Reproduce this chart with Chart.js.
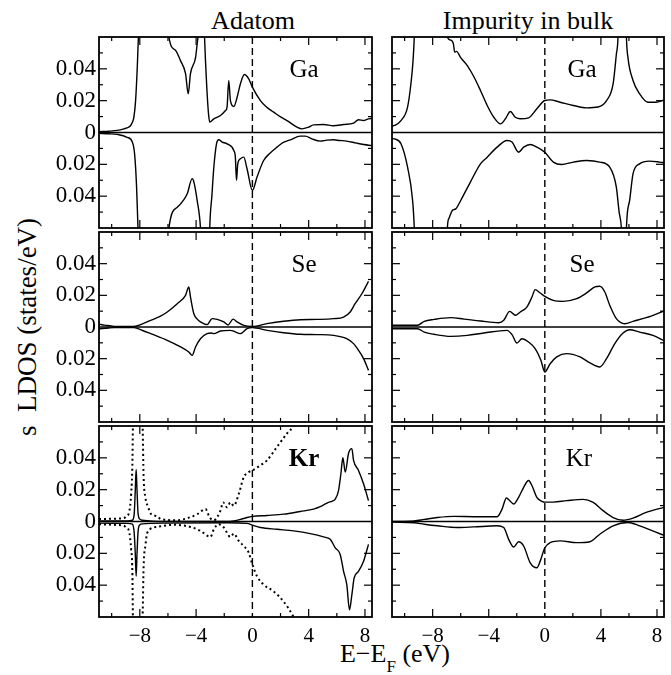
<!DOCTYPE html>
<html>
<head>
<meta charset="utf-8">
<script src="https://cdn.jsdelivr.net/npm/chart.js@4.4.1/dist/chart.umd.min.js"></script>
<style>
  body { margin: 0; background: #fff; width: 671px; height: 675px; position: relative; overflow: hidden;
         font-family: "Liberation Serif", "Times New Roman", serif; color: #000; }
  canvas { position: absolute; }
  .t { position: absolute; white-space: nowrap; line-height: 1; }
</style>
</head>
<body>
<div class="t" style="font-size:26px;left:253px;top:8px;transform:translateX(-50%)">Adatom</div>
<div class="t" style="font-size:26px;left:528px;top:8px;transform:translateX(-50%)">Impurity in bulk</div>
<div class="t" style="font-size:27px;left:27px;top:327px;transform:translate(-50%,-50%) rotate(-90deg)">s&nbsp;&nbsp;LDOS (states/eV)</div>
<div class="t" style="font-size:26px;left:395px;top:641px;transform:translateX(-50%)">E&#8722;E<span style="font-size:17px;position:relative;top:10px">F</span> (eV)</div>

<canvas id="gaAd"></canvas>
<canvas id="gaBk"></canvas>
<canvas id="seAd"></canvas>
<canvas id="seBk"></canvas>
<canvas id="krAd"></canvas>
<canvas id="krBk"></canvas>

<script>
// axis ranges and ticks
const xMin = -10.9, xMax = 8.5;
const yMin = -0.06, yMax = 0.06;
const xLabelValues = [-8, -4, 0, 4, 8];
const yLabelValues = [-0.04, -0.02, 0, 0.02, 0.04];
const xTickMarks = [-10, -8, -6, -4, -2, 2, 4, 6, 8];
const yTickMarks = [-0.05, -0.04, -0.03, -0.02, -0.01, 0.01, 0.02, 0.03, 0.04, 0.05];

// Ga adatom
const gaAdUpE = [-10.9, -10.2, -9.6, -9.13, -8.8, -8.65, -8.5, -8.42, -8.3, -8.18, -8.1, -8.0, -6.05, -5.93, -5.5, -5.1, -4.75, -4.56, -4.4, -4.04, -3.92, -3.8, -3.6, -3.5, -3.4, -3.25, -3.12, -3.03, -2.74, -2.27, -1.91, -1.8, -1.68, -1.56, -1.32, -1.09, -0.85, -0.57, -0.26, 0, 0.57, 1.0, 1.51, 2.0, 2.46, 3.17, 3.52, 4.0, 4.35, 5.06, 5.77, 6.48, 7.19, 7.54, 7.9, 8.25, 8.5];
const gaAdUp  = [0.0005, 0.0008, 0.0013, 0.0023, 0.0033, 0.0044, 0.007, 0.0096, 0.020, 0.041, 0.06, 0.09, 0.09, 0.06, 0.052, 0.045, 0.037, 0.0243, 0.037, 0.047, 0.056, 0.065, 0.09, 0.09, 0.06, 0.03, 0.012, 0.0065, 0.0086, 0.0107, 0.0138, 0.016, 0.0327, 0.020, 0.0163, 0.022, 0.0306, 0.0364, 0.0337, 0.0285, 0.020, 0.016, 0.0128, 0.0098, 0.0075, 0.0034, 0.0023, 0.0034, 0.0048, 0.005, 0.0042, 0.005, 0.0059, 0.008, 0.0075, 0.0086, 0.0088];
const gaAdDnE = [-10.9, -10.2, -9.6, -8.9, -8.53, -8.37, -8.23, -8.13, -8.0, -6.05, -5.93, -5.34, -4.63, -4.28, -4.16, -3.92, -3.69, -3.55, -3.1, -3.03, -2.88, -2.74, -2.55, -2.39, -2.15, -1.8, -1.32, -1.21, -1.13, -1.04, -0.85, -0.61, -0.38, 0, 0.33, 0.8, 1.25, 1.75, 2.2, 2.7, 3.4, 3.76, 4.23, 4.82, 5.3, 5.77, 6.2, 6.7, 7.4, 8.25, 8.5];
const gaAdDn  = [-0.0005, -0.0008, -0.0012, -0.003, -0.006, -0.0134, -0.034, -0.06, -0.09, -0.09, -0.06, -0.047, -0.0385, -0.029, -0.031, -0.043, -0.06, -0.09, -0.09, -0.06, -0.04, -0.0218, -0.0071, -0.0046, -0.006, -0.0071, -0.0113, -0.0155, -0.030, -0.0197, -0.0165, -0.0155, -0.0228, -0.0364, -0.028, -0.0176, -0.013, -0.0092, -0.0062, -0.0046, -0.0023, -0.0023, -0.004, -0.0054, -0.0048, -0.0046, -0.005, -0.0054, -0.0067, -0.008, -0.0082];

// Ga impurity in bulk
const gaBkUpE = [-10.9, -10.73, -10.26, -9.79, -9.55, -9.4, -9.31, -9.2, -7.0, -6.95, -6.7, -6.52, -6.43, -6.3, -6.0, -5.53, -5.06, -4.59, -4.11, -3.64, -3.17, -2.81, -2.46, -2.1, -1.75, -1.16, -0.57, 0, 0.38, 1.09, 2.03, 2.98, 3.8, 4.4, 4.87, 5.1, 5.22, 5.3, 5.75, 5.82, 5.93, 6.29, 6.76, 7.35, 7.94, 8.5];
const gaBkUp  = [0.0040, 0.0044, 0.0075, 0.016, 0.0306, 0.045, 0.06, 0.09, 0.09, 0.06, 0.058, 0.0557, 0.0505, 0.051, 0.047, 0.042, 0.035, 0.0264, 0.017, 0.0096, 0.0054, 0.0086, 0.0132, 0.0096, 0.0086, 0.0092, 0.0149, 0.0201, 0.0205, 0.019, 0.017, 0.0155, 0.016, 0.020, 0.0306, 0.049, 0.06, 0.09, 0.09, 0.06, 0.047, 0.0327, 0.0243, 0.019, 0.019, 0.0205];
const gaBkDnE = [-10.9, -10.73, -10.26, -9.79, -9.43, -9.31, -9.2, -7.0, -6.95, -6.84, -6.6, -6.35, -6.0, -5.3, -4.59, -4.11, -3.4, -2.7, -2.34, -1.87, -1.51, -1.04, -0.57, 0, 0.61, 1.2, 2.03, 2.98, 3.92, 4.63, 5.1, 5.3, 5.46, 5.6, 5.75, 5.82, 6.05, 6.29, 6.76, 7.47, 8.18, 8.5];
const gaBkDn  = [-0.0038, -0.004, -0.0071, -0.0218, -0.0427, -0.06, -0.09, -0.09, -0.06, -0.054, -0.049, -0.048, -0.0427, -0.031, -0.0197, -0.0155, -0.0092, -0.005, -0.006, -0.0124, -0.0092, -0.0075, -0.0092, -0.0124, -0.0186, -0.0201, -0.0186, -0.0176, -0.0186, -0.0218, -0.0343, -0.05, -0.06, -0.09, -0.09, -0.06, -0.0427, -0.026, -0.0197, -0.018, -0.0186, -0.019];

// Se adatom
const seAdUpE = [-10.9, -10.5, -9.83, -8.42, -7.8, -7.23, -6.6, -6.05, -5.34, -4.75, -4.52, -4.4, -4.16, -3.9, -3.69, -3.22, -2.86, -2.5, -2.03, -1.73, -1.37, -1.09, -0.61, 0, 1.04, 2.22, 3.4, 4.59, 5.77, 6.48, 6.95, 7.3, 7.78, 8.25];
const seAdUp  = [0.0018, 0.0012, 0.0004, 0.0004, 0.002, 0.0042, 0.0065, 0.0095, 0.0147, 0.02, 0.0253, 0.019, 0.0084, 0.0048, 0.0032, 0.0015, 0.0053, 0.0048, 0.0032, 0.0013, 0.005, 0.0032, 0.001, 0.0004, 0.0021, 0.0036, 0.0046, 0.0048, 0.0053, 0.0063, 0.0095, 0.0147, 0.021, 0.0288];
const seAdDnE = [-10.9, -10.2, -9.83, -8.42, -7.8, -7.23, -6.05, -5.1, -4.52, -4.28, -4.04, -3.69, -3.22, -2.9, -2.74, -2.27, -1.56, -1.32, -0.85, -0.38, 0, 1.04, 2.22, 3.4, 4.59, 5.77, 6.7, 7.19, 7.54, 7.9, 8.25];
const seAdDn  = [-0.0012, -0.0006, -0.0004, -0.0004, -0.0022, -0.0042, -0.0084, -0.0126, -0.0158, -0.0179, -0.0126, -0.0074, -0.0042, -0.0038, -0.0042, -0.0025, -0.0021, -0.0027, -0.0042, -0.0011, -0.0004, -0.0021, -0.0036, -0.0046, -0.0048, -0.0053, -0.0074, -0.0105, -0.0147, -0.02, -0.0274];

// Se impurity in bulk
const seBkUpE = [-10.9, -9.08, -8.6, -7.9, -6.71, -5.77, -4.59, -3.29, -2.93, -2.51, -2.1, -1.75, -1.28, -0.92, -0.69, -0.33, 0, 0.61, 1.32, 2.27, 2.98, 3.57, 3.92, 4.28, 4.63, 5.1, 5.7, 6.29, 7.23, 8.5];
const seBkUp  = [0.0011, 0.0011, 0.0036, 0.0048, 0.0059, 0.005, 0.0038, 0.0027, 0.0042, 0.0099, 0.0074, 0.0095, 0.0126, 0.0189, 0.0236, 0.0215, 0.0194, 0.0168, 0.0162, 0.0179, 0.0215, 0.0253, 0.0257, 0.0221, 0.0137, 0.0053, 0.0021, 0.0036, 0.0059, 0.0101];
const seBkDnE = [-10.9, -9.08, -8.6, -7.9, -6.71, -5.53, -4.35, -2.7, -2.34, -1.99, -1.63, -1.16, -0.69, -0.28, 0, 0.38, 0.85, 1.56, 2.51, 3.22, 3.92, 4.4, 4.99, 5.58, 6.05, 6.76, 7.71, 8.5];
const seBkDn  = [-0.0011, -0.0011, -0.0032, -0.0046, -0.0059, -0.0053, -0.0038, -0.0021, -0.0048, -0.0101, -0.0074, -0.0095, -0.0137, -0.021, -0.0284, -0.0232, -0.0189, -0.0168, -0.0189, -0.0227, -0.0253, -0.02, -0.0105, -0.0038, -0.0017, -0.0032, -0.0053, -0.0086];

// Kr adatom (solid and dotted)
const krAdUpE = [-10.9, -8.89, -8.53, -8.4, -8.32, -8.26, -8.2, -8.12, -8.0, -7.82, -6.05, -1.8, -1.32, -0.85, -0.38, 0, 1.04, 2.22, 3.4, 4.35, 4.82, 5.18, 5.41, 5.65, 5.89, 6.12, 6.29, 6.43, 6.6, 6.83, 7.07, 7.19, 7.54, 7.9, 8.25];
const krAdUp  = [0.0004, 0.0004, 0.0008, 0.0046, 0.020, 0.0327, 0.020, 0.0046, 0.0015, 0.0008, 0, 0, 0.0004, 0.0013, 0.0025, 0.0032, 0.0038, 0.0046, 0.0063, 0.0078, 0.0093, 0.011, 0.012, 0.0127, 0.0141, 0.0194, 0.030, 0.0401, 0.031, 0.0427, 0.0458, 0.0384, 0.0321, 0.0237, 0.0131];
const krAdDnE = [-10.9, -8.89, -8.53, -8.4, -8.32, -8.26, -8.2, -8.12, -8.0, -7.82, -6.05, -1.8, -0.38, 0, 0.57, 1.75, 2.93, 4.11, 5.06, 5.53, 5.89, 6.24, 6.48, 6.71, 6.9, 7.07, 7.23, 7.54, 7.9, 8.25];
const krAdDn  = [-0.001, -0.0012, -0.0017, -0.007, -0.0207, -0.0344, -0.0207, -0.0059, -0.0021, -0.0015, -0.001, -0.0008, -0.0012, -0.0023, -0.0038, -0.0049, -0.0059, -0.0076, -0.0097, -0.0112, -0.0165, -0.0207, -0.0313, -0.0397, -0.0555, -0.046, -0.0355, -0.0313, -0.0249, -0.0144];
const krAdUpDotE = [-10.9, -9.6, -9.13, -8.96, -8.77, -8.61, -8.53, -8.49, -8.4, -7.9, -7.8, -7.73, -7.6, -7.42, -7.23, -6.74, -6.52, -5.34, -4.63, -3.92, -3.33, -3.03, -2.74, -2.27, -2.08, -1.8, -1.56, -1.32, -0.97, -0.61, -0.26, 0, 0.57, 1.04, 1.75, 2.46, 2.93, 3.2];
const krAdUpDot  = [0.0015, 0.0018, 0.0021, 0.0032, 0.0055, 0.018, 0.035, 0.06, 0.09, 0.09, 0.06, 0.0285, 0.015, 0.0095, 0.005, 0.0032, 0.0015, 0.0008, 0.0021, 0.0046, 0.0078, 0.0025, 0.0008, 0.0068, 0.012, 0.0089, 0.012, 0.0099, 0.0173, 0.0279, 0.031, 0.0321, 0.0353, 0.0384, 0.0469, 0.0553, 0.06, 0.065];
const krAdDnDotE = [-10.9, -9.6, -9.13, -8.96, -8.77, -8.61, -8.53, -8.49, -8.4, -7.9, -7.8, -7.73, -7.6, -7.47, -6.76, -5.58, -4.4, -3.69, -2.98, -2.74, -2.39, -2.03, -1.56, -1.32, -0.97, -0.61, -0.26, 0, 0.33, 0.8, 1.51, 2.22, 2.93, 3.2];
const krAdDnDot  = [-0.0017, -0.0022, -0.0027, -0.0038, -0.0059, -0.018, -0.0313, -0.06, -0.09, -0.09, -0.06, -0.0285, -0.015, -0.007, -0.0034, -0.0021, -0.0034, -0.0059, -0.0097, -0.0049, -0.0017, -0.0038, -0.0097, -0.0076, -0.0122, -0.0154, -0.0196, -0.027, -0.0344, -0.0397, -0.0439, -0.0503, -0.06, -0.065];

// Kr impurity in bulk
const krBkUpE = [-10.9, -9.31, -8.6, -7.66, -6.48, -5.06, -3.4, -3.05, -2.74, -2.46, -2.22, -1.87, -1.51, -1.16, -0.92, -0.57, -0.21, 0, 0.61, 1.56, 2.74, 3.45, 4.16, 4.87, 5.58, 6.29, 7.23, 8.5];
const krBkUp  = [0, 0.0004, 0.0013, 0.0025, 0.0032, 0.003, 0.003, 0.0078, 0.0148, 0.0127, 0.011, 0.0152, 0.0215, 0.0258, 0.0226, 0.0152, 0.0127, 0.0122, 0.0122, 0.0131, 0.0139, 0.012, 0.0068, 0.0025, 0.0008, 0.0021, 0.0057, 0.0089];
const krBkDnE = [-10.9, -9.31, -8.6, -7.66, -6.24, -5.06, -3.4, -2.93, -2.58, -2.22, -1.87, -1.51, -1.04, -0.57, -0.33, 0, 0.38, 1.09, 2.27, 3.22, 3.92, 4.87, 5.93, 6.76, 8.5];
const krBkDn  = [-0.0004, -0.0008, -0.0017, -0.0027, -0.0038, -0.0034, -0.0027, -0.0038, -0.0112, -0.016, -0.0127, -0.0154, -0.026, -0.0291, -0.0249, -0.0165, -0.0133, -0.0122, -0.0133, -0.0127, -0.008, -0.0027, -0.0006, -0.0027, -0.0087];

const serif = '"Liberation Serif", "Times New Roman", serif';

// frame, inner tick marks, zero line, E_F line and panel label
const framePlugin = {
  id: 'frame',
  afterDatasetsDraw(chart, args, opts) {
    const { ctx, chartArea: a, scales: { x, y } } = chart;
    const line = (x1, y1, x2, y2) => { ctx.beginPath(); ctx.moveTo(x1, y1); ctx.lineTo(x2, y2); ctx.stroke(); };
    ctx.save();
    ctx.strokeStyle = '#000';
    ctx.fillStyle = '#000';
    ctx.lineWidth = 1.4;
    const y0 = y.getPixelForValue(0);
    line(a.left, y0, a.right, y0);
    const x0 = x.getPixelForValue(0);
    ctx.setLineDash([7, 4]);
    line(x0, a.top, x0, a.bottom);
    ctx.setLineDash([]);
    ctx.lineWidth = 1.2;
    xTickMarks.forEach(v => {
      const px = x.getPixelForValue(v);
      const len = v % 4 === 0 ? 8 : 4;
      line(px, a.bottom, px, a.bottom - len);
      line(px, a.top, px, a.top + len);
    });
    yTickMarks.forEach(v => {
      const py = y.getPixelForValue(v);
      const len = Math.round(Math.abs(v) * 100) % 2 === 0 ? 8 : 4;
      line(a.left, py, a.left + len, py);
      line(a.right, py, a.right - len, py);
    });
    ctx.lineWidth = 1.8;
    ctx.strokeRect(a.left, a.top, a.width, a.height);
    ctx.font = (opts.bold ? 'bold ' : '') + '25px ' + serif;
    ctx.textAlign = 'center';
    ctx.textBaseline = 'alphabetic';
    ctx.fillText(opts.label, a.left + opts.dx, a.top + 40);
    ctx.restore();
  }
};

function curve(e, v, dotted) {
  return {
    data: e.map((x, i) => ({ x, y: v[i] })),
    borderColor: '#000',
    borderWidth: dotted ? 2 : 1.4,
    borderDash: dotted ? [2, 3] : [],
    pointRadius: 0,
    cubicInterpolationMode: 'monotone',
    fill: false,
    clip: 0
  };
}

// plot rectangles in page pixels
const colLeft = [99, 392], colRight = [372, 664];
const rowTop = [37, 232, 426], rowBottom = [228, 422, 617];

function makePanel(id, col, row, datasets, label, dx, bold) {
  const cv = document.getElementById(id);
  const showY = col === 0, showX = row === 2;
  const left = showY ? 0 : colLeft[col] - 4;
  const top = rowTop[row] - 4;
  const w = colRight[col] + 4 - left;
  const h = (showX ? rowBottom[row] + 30 : rowBottom[row] + 4) - top;
  cv.width = w; cv.height = h;
  cv.style.left = left + 'px'; cv.style.top = top + 'px';
  cv.style.width = w + 'px'; cv.style.height = h + 'px';

  new Chart(cv.getContext('2d'), {
    type: 'line',
    data: { datasets },
    options: {
      responsive: false,
      animation: false,
      devicePixelRatio: 1,
      layout: { padding: { left: showY ? 0 : 4, right: 4, top: 4, bottom: showX ? 0 : 4 } },
      plugins: { legend: { display: false }, tooltip: { enabled: false }, frame: { label, dx, bold } },
      scales: {
        x: {
          type: 'linear', min: xMin, max: xMax, display: showX,
          grid: { display: false, drawTicks: false }, border: { display: false },
          afterBuildTicks: s => { s.ticks = xLabelValues.map(v => ({ value: v })); },
          afterFit: s => {
            s.paddingLeft = 0; s.paddingRight = 0;
            if (showX) s.height = 30;
          },
          ticks: {
            color: '#000', padding: 7, maxRotation: 0, autoSkip: false,
            font: { family: serif, size: 21 },
            callback: v => v < 0 ? '\u2212' + Math.abs(v) : String(v)
          }
        },
        y: {
          type: 'linear', min: yMin, max: yMax, display: showY,
          grid: { display: false, drawTicks: false }, border: { display: false },
          afterBuildTicks: s => { s.ticks = yLabelValues.map(v => ({ value: v })); },
          afterFit: s => {
            s.paddingTop = 0; s.paddingBottom = 0;
            if (showY) s.width = 99;
          },
          ticks: {
            color: '#000', padding: 3, autoSkip: false,
            font: { family: serif, size: 23 },
            callback: v => Math.abs(v) < 1e-9 ? '0' : Math.abs(v).toFixed(2)
          }
        }
      }
    },
    plugins: [framePlugin]
  });
}

makePanel('gaAd', 0, 0, [curve(gaAdUpE, gaAdUp), curve(gaAdDnE, gaAdDn)], 'Ga', 205, false);
makePanel('gaBk', 1, 0, [curve(gaBkUpE, gaBkUp), curve(gaBkDnE, gaBkDn)], 'Ga', 190, false);
makePanel('seAd', 0, 1, [curve(seAdUpE, seAdUp), curve(seAdDnE, seAdDn)], 'Se', 205, false);
makePanel('seBk', 1, 1, [curve(seBkUpE, seBkUp), curve(seBkDnE, seBkDn)], 'Se', 190, false);
makePanel('krAd', 0, 2, [curve(krAdUpE, krAdUp), curve(krAdDnE, krAdDn),
  curve(krAdUpDotE, krAdUpDot, true), curve(krAdDnDotE, krAdDnDot, true)], 'Kr', 205, true);
makePanel('krBk', 1, 2, [curve(krBkUpE, krBkUp), curve(krBkDnE, krBkDn)], 'Kr', 187, false);
</script>
</body>
</html>
